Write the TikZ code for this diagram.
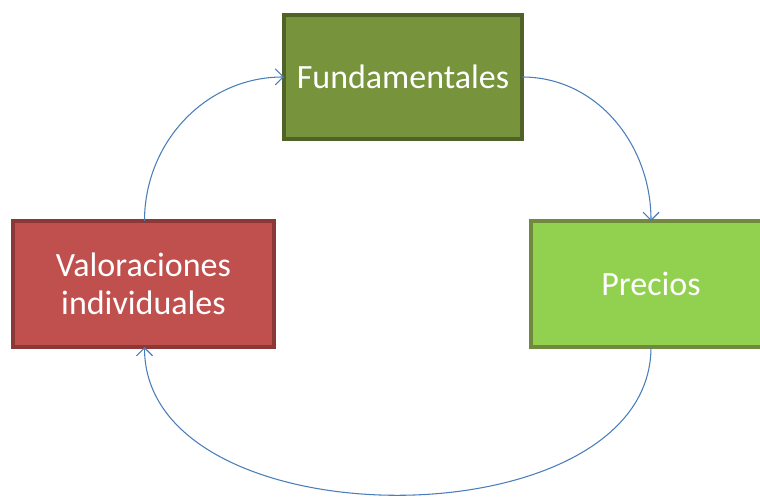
\documentclass[tikz,border=0pt]{standalone}
\usepackage{fontspec}
\setmainfont{Carlito}
\usetikzlibrary{arrows.meta, positioning}
\definecolor{olivefill}{HTML}{77933C}
\definecolor{olivedraw}{HTML}{4F6228}
\definecolor{redfill}{HTML}{C0504D}
\definecolor{reddraw}{HTML}{8C3836}
\definecolor{limefill}{HTML}{92D050}
\definecolor{limedraw}{HTML}{71893F}
\definecolor{linkblue}{HTML}{4A7EBB}
\tikzset{%
cycle box/.style={
    rectangle, draw, line width=2.8pt,
    text=white, align=center,
    font=\fontsize{25.5}{28.5}\selectfont,
    inner sep=0pt, outer sep=0pt
  },
cycle link/.style={
    draw=linkblue, line width=0.8pt,
    -{Straight Barb[length=6pt,width=12pt]}
  }
}
\begin{document}
\begin{tikzpicture}[x=0.75pt, y=-0.75pt]
\useasboundingbox (0,0) rectangle (760,498);
\begin{scope}
\clip (0,0) rectangle (760,498);
\node[cycle box, fill=olivefill, draw=olivedraw,
  minimum width=178.5pt, minimum height=93pt] (fund) at (403,77) {Fundamentales};
\node[cycle box, fill=redfill, draw=reddraw,
  minimum width=195.75pt, minimum height=94.5pt] (valor) at (143.5,284) {Valoraciones\\individuales};
\node[cycle box, fill=limefill, draw=limedraw,
  minimum width=180pt, minimum height=94.5pt] (precios) at (651,284) {Precios};
\end{scope}
\draw[cycle link] ([xshift=0.75pt]valor.north) to[out=90, in=180] (fund.west);
\draw[cycle link] (fund.east) to[out=0, in=90] (precios.north);
\draw[cycle link] (precios.south) to[out=-90, in=-90] ([xshift=0.75pt]valor.south);
\end{tikzpicture}
\end{document}
